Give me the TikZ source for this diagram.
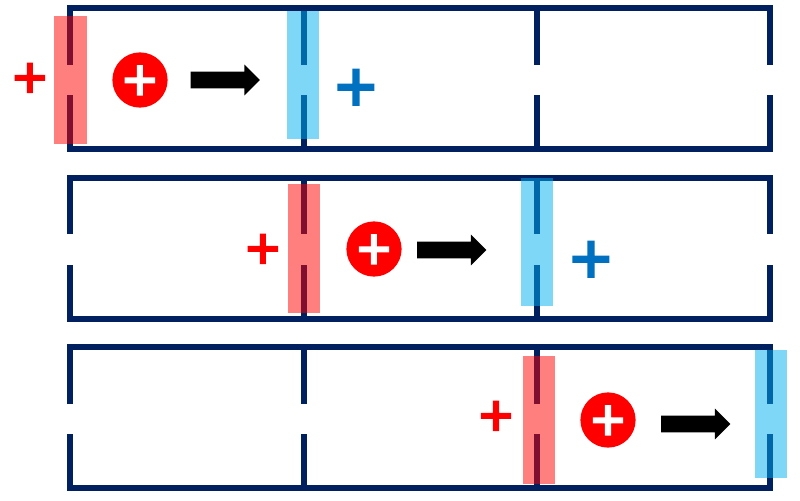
\documentclass[tikz,border=0pt]{standalone}
\usepackage{fontspec}
\setmainfont[FakeBold=3]{Liberation Sans}
\usetikzlibrary{shapes.arrows}

\begin{document}
\begin{tikzpicture}[x=0.025cm, y=-0.025cm,
	wall/.style={draw=wallnavy, line width=0.15cm, miter limit=10},
	entry/.style={fill=red, fill opacity=0.5, minimum width=0.81cm, minimum height=3.21cm, inner sep=0pt},
	exit/.style={fill=exitblue, fill opacity=0.5, minimum width=0.81cm, minimum height=3.21cm, inner sep=0pt},
	ion/.style={circle, fill=red, minimum size=1.38cm, inner sep=0pt},
	ionplus/.style={text=white, inner sep=0pt, font=\fontsize{42}{42}\selectfont},
	redplus/.style={text=red, inner sep=0pt, font=\fontsize{42}{42}\selectfont},
	blueplus/.style={text=plusblue, inner sep=0pt, font=\fontsize{51}{51}\selectfont},
	move/.style={single arrow, fill=black, inner sep=0pt, text height=0.4cm, text depth=0pt, minimum height=1.73cm, single arrow head extend=0.175cm, single arrow head indent=0cm}]
	\definecolor{wallnavy}{HTML}{002060}
	\definecolor{exitblue}{HTML}{00B0F0}
	\definecolor{plusblue}{HTML}{0070C0}
	\useasboundingbox (0,0) rectangle (800,500);

	% Row 1
	\draw[wall] (70,65) -- (70,8) -- (770,8) -- (770,65);
	\draw[wall] (70,95) -- (70,149) -- (770,149) -- (770,95);
	\draw[wall] (303.5,8) -- (303.5,65);
	\draw[wall] (303.5,95) -- (303.5,149);
	\draw[wall] (537,8) -- (537,65);
	\draw[wall] (537,95) -- (537,149);
	\node[entry] (entryA) at (70.5,80) {};
	\node[exit] (exitA) at (303,75) {};
	\node[redplus] (plusA) at (30,80.5) {+};
	\node[ion] (ionA) at (140,80) {};
	\node[ionplus] (signA) at (140,83) {+};
	\node[move] (moveA) at (221,80) {};
	\node[blueplus] (chargeA) at (356,90.5) {+};

	% Row 2
	\draw[wall] (70,234) -- (70,177.5) -- (770,177.5) -- (770,234);
	\draw[wall] (70,265) -- (70,318.5) -- (770,318.5) -- (770,265);
	\draw[wall] (303.5,177.5) -- (303.5,234);
	\draw[wall] (303.5,265) -- (303.5,318.5);
	\draw[wall] (537,177.5) -- (537,234);
	\draw[wall] (537,265) -- (537,318.5);
	\node[entry] (entryB) at (304,248.5) {};
	\node[exit] (exitB) at (537,242) {};
	\node[redplus] (plusB) at (263,251.5) {+};
	\node[ion] (ionB) at (374,249) {};
	\node[ionplus] (signB) at (374,252) {+};
	\node[move] (moveB) at (447.5,250) {};
	\node[blueplus] (chargeB) at (591,262.5) {+};

	% Row 3
	\draw[wall] (70,404) -- (70,347) -- (770,347) -- (770,404);
	\draw[wall] (70,434) -- (70,488) -- (770,488) -- (770,434);
	\draw[wall] (303.5,347) -- (303.5,404);
	\draw[wall] (303.5,434) -- (303.5,488);
	\draw[wall] (537,347) -- (537,404);
	\draw[wall] (537,434) -- (537,488);
	\node[entry] (entryC) at (539,420) {};
	\node[exit] (exitC) at (771,414) {};
	\node[redplus] (plusC) at (496,418.5) {+};
	\node[ion] (ionC) at (608,420) {};
	\node[ionplus] (signC) at (608,423) {+};
	\node[move] (moveC) at (691.5,424) {};
\end{tikzpicture}
\end{document}
